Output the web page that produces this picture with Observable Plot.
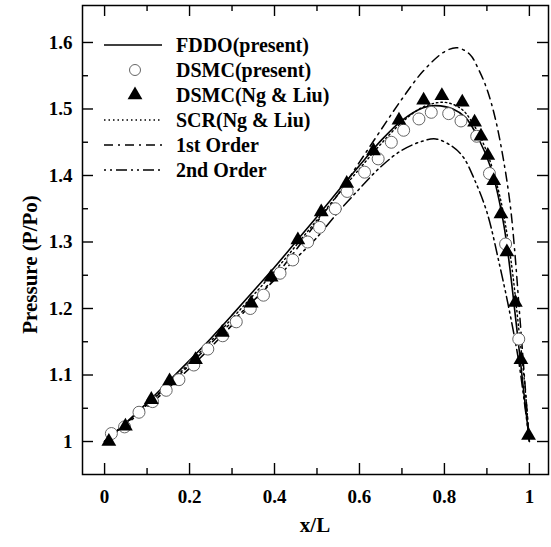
<!DOCTYPE html>
<html><head><meta charset="utf-8">
<script src="https://cdn.jsdelivr.net/npm/d3@7"></script>
<script src="https://cdn.jsdelivr.net/npm/@observablehq/plot@0.6"></script>
<style>body{margin:0;background:#fff}</style>
</head><body><div id="chart"></div>
<script>
// ---- tick values / labels ----
const xMajorTicks = [0, 0.2, 0.4, 0.6, 0.8, 1];
const xMajorLabels = ["0", "0.2", "0.4", "0.6", "0.8", "1"];
const xMinorTicks = [0.1, 0.3, 0.5, 0.7, 0.9];
const yMajorTicks = [1, 1.1, 1.2, 1.3, 1.4, 1.5, 1.6];
const yMajorLabels = ["1", "1.1", "1.2", "1.3", "1.4", "1.5", "1.6"];
const yMinorTicks = [1.05, 1.15, 1.25, 1.35, 1.45, 1.55];

// ---- series ----
const seriesNames = ["FDDO(present)", "DSMC(present)", "DSMC(Ng & Liu)", "SCR(Ng & Liu)", "1st Order", "2nd Order"];

const fddoX = [0, 0.05, 0.1, 0.15, 0.2, 0.25, 0.3, 0.35, 0.4, 0.45, 0.5, 0.55, 0.6, 0.65, 0.7, 0.75, 0.78, 0.82, 0.85, 0.88, 0.91, 0.94, 0.97, 0.985, 1.0];
const fddoP = [1.0, 1.028, 1.058, 1.09, 1.122, 1.155, 1.19, 1.226, 1.262, 1.3, 1.338, 1.377, 1.415, 1.452, 1.483, 1.502, 1.505, 1.5, 1.487, 1.456, 1.41, 1.325, 1.172, 1.085, 1.0];

const dsmcX = [0.016, 0.047, 0.081, 0.113, 0.145, 0.175, 0.21, 0.243, 0.278, 0.31, 0.343, 0.374, 0.413, 0.443, 0.478, 0.506, 0.543, 0.571, 0.612, 0.644, 0.675, 0.704, 0.74, 0.769, 0.81, 0.839, 0.876, 0.906, 0.944, 0.975];
const dsmcP = [1.012, 1.022, 1.044, 1.06, 1.077, 1.093, 1.115, 1.139, 1.159, 1.18, 1.2, 1.22, 1.253, 1.273, 1.3, 1.322, 1.35, 1.376, 1.405, 1.425, 1.45, 1.468, 1.485, 1.495, 1.493, 1.482, 1.459, 1.403, 1.297, 1.154];

const ngX = [0.01, 0.049, 0.11, 0.153, 0.214, 0.277, 0.345, 0.392, 0.455, 0.51, 0.57, 0.633, 0.693, 0.751, 0.794, 0.842, 0.871, 0.886, 0.902, 0.916, 0.933, 0.947, 0.967, 0.98, 0.998];
const ngP = [1.0, 1.023, 1.063, 1.091, 1.123, 1.164, 1.208, 1.247, 1.303, 1.345, 1.388, 1.437, 1.483, 1.513, 1.52, 1.51, 1.48, 1.459, 1.43, 1.392, 1.342, 1.285, 1.209, 1.123, 1.009];

const scrX = [0, 0.1, 0.2, 0.3, 0.4, 0.5, 0.6, 0.65, 0.7, 0.75, 0.8, 0.84, 0.87, 0.9, 0.93, 0.955, 0.975, 0.99, 1.0];
const scrP = [1.0, 1.056, 1.118, 1.185, 1.256, 1.333, 1.41, 1.447, 1.48, 1.503, 1.51, 1.5, 1.475, 1.435, 1.37, 1.28, 1.17, 1.08, 1.0];

const firstX = [0, 0.1, 0.2, 0.3, 0.4, 0.5, 0.55, 0.6, 0.65, 0.7, 0.75, 0.8, 0.83, 0.86, 0.88, 0.9, 0.92, 0.94, 0.955, 0.965, 0.976, 0.988, 1.0];
const firstP = [1.0, 1.052, 1.11, 1.175, 1.247, 1.33, 1.372, 1.42, 1.468, 1.515, 1.557, 1.586, 1.592, 1.582, 1.56, 1.53, 1.485, 1.42, 1.355, 1.29, 1.2, 1.1, 1.0];

const secondX = [0, 0.1, 0.2, 0.3, 0.4, 0.45, 0.5, 0.55, 0.6, 0.65, 0.7, 0.75, 0.78, 0.82, 0.845, 0.87, 0.9, 0.93, 0.955, 0.975, 0.988, 1.0];
const secondP = [1.0, 1.055, 1.115, 1.18, 1.243, 1.275, 1.307, 1.345, 1.38, 1.413, 1.438, 1.452, 1.455, 1.443, 1.427, 1.395, 1.345, 1.265, 1.19, 1.12, 1.06, 1.0];

// ---- build tables ----
const toRows = (xs, ps) => xs.map((x, i) => ({x, p: ps[i]}));
const fddo = toRows(fddoX, fddoP);
const dsmc = toRows(dsmcX, dsmcP);
const ng = toRows(ngX, ngP);
const scr = toRows(scrX, scrP);
const first = toRows(firstX, firstP);
const second = toRows(secondX, secondP);

// ---- styles ----
const W = 551, H = 547;
const mL = 82, mR = 3, mT = 5, mB = 73;
const innerW = W - mL - mR, innerH = H - mT - mB;
const FONT = "'Liberation Serif', 'Times New Roman', 'DejaVu Serif', serif";
const lineStyles = {
  fddo: {stroke: "#000", strokeWidth: 1.6},
  scr: {stroke: "#000", strokeWidth: 1.4, strokeDasharray: "1.5,3"},
  first: {stroke: "#000", strokeWidth: 1.5, strokeDasharray: "9,5,2,5"},
  second: {stroke: "#000", strokeWidth: 1.5, strokeDasharray: "2,4,2,4,11,4"}
};

const major = 11, minor = 6;
const plot = Plot.plot({
  width: W, height: H,
  marginLeft: mL, marginRight: mR, marginTop: mT, marginBottom: mB,
  style: {fontFamily: FONT, fontWeight: "bold", fontSize: "19px", color: "#000", background: "#fff"},
  x: {domain: [-0.052, 1.045]},
  y: {domain: [0.9504, 1.6556]},
  marks: [
    // axis labels only (ticks drawn inward below)
    Plot.axisX(xMajorTicks, {tickSize: 0, tickPadding: 15, tickFormat: (d, i) => xMajorLabels[i], label: null, fontFamily: FONT}),
    Plot.axisY(yMajorTicks, {tickSize: 0, tickPadding: 10, tickFormat: (d, i) => yMajorLabels[i], label: null, fontFamily: FONT}),
    // inward ticks on all four sides
    Plot.tickX(xMajorTicks, {x: d => d, insetTop: innerH - major, stroke: "#000", strokeWidth: 1.4}),
    Plot.tickX(xMajorTicks, {x: d => d, insetBottom: innerH - major, stroke: "#000", strokeWidth: 1.4}),
    Plot.tickX(xMinorTicks, {x: d => d, insetTop: innerH - minor, stroke: "#000", strokeWidth: 1.4}),
    Plot.tickX(xMinorTicks, {x: d => d, insetBottom: innerH - minor, stroke: "#000", strokeWidth: 1.4}),
    Plot.tickY(yMajorTicks, {y: d => d, insetRight: innerW - major, stroke: "#000", strokeWidth: 1.4}),
    Plot.tickY(yMajorTicks, {y: d => d, insetLeft: innerW - major, stroke: "#000", strokeWidth: 1.4}),
    Plot.tickY(yMinorTicks, {y: d => d, insetRight: innerW - minor, stroke: "#000", strokeWidth: 1.4}),
    Plot.tickY(yMinorTicks, {y: d => d, insetLeft: innerW - minor, stroke: "#000", strokeWidth: 1.4}),
    // curves
    Plot.line(first, {x: "x", y: "p", curve: "catmull-rom", ...lineStyles.first}),
    Plot.line(second, {x: "x", y: "p", curve: "catmull-rom", ...lineStyles.second}),
    Plot.line(scr, {x: "x", y: "p", curve: "catmull-rom", ...lineStyles.scr}),
    Plot.line(fddo, {x: "x", y: "p", curve: "catmull-rom", ...lineStyles.fddo}),
    // symbols
    Plot.dot(dsmc, {x: "x", y: "p", r: 6, symbol: "circle", fill: "#fff", stroke: "#666", strokeWidth: 1}),
    Plot.dot(ng, {x: "x", y: "p", r: 5.5, symbol: "triangle", fill: "#000", stroke: "none"}),
    Plot.frame({stroke: "#000", strokeWidth: 1.5})
  ]
});
document.getElementById("chart").appendChild(plot);

// ---- axis titles and legend ----
const svg = d3.select(plot);
svg.append("text")
  .attr("transform", `translate(30, ${(mT + H - mB) / 2 + 25}) rotate(-90)`)
  .attr("text-anchor", "middle").attr("dominant-baseline", "central")
  .style("font-family", FONT).style("font-weight", "bold").style("font-size", "21px")
  .text("Pressure (P/Po)");
svg.append("text")
  .attr("x", mL + innerW / 2).attr("y", 525)
  .attr("text-anchor", "middle").attr("dominant-baseline", "central")
  .style("font-family", FONT).style("font-weight", "bold").style("font-size", "21px")
  .text("x/L");

const lg = svg.append("g").attr("text-anchor", "start")
  .style("font-family", FONT).style("font-weight", "bold").style("font-size", "20px");
const legendKinds = ["fddo", "circle", "triangle", "scr", "first", "second"];
seriesNames.forEach((name, i) => {
  const y = 45 + i * 25;
  const kind = legendKinds[i];
  if (lineStyles[kind]) {
    const s = lineStyles[kind];
    lg.append("line").attr("x1", 104).attr("x2", 162).attr("y1", y).attr("y2", y)
      .attr("stroke", s.stroke).attr("stroke-width", s.strokeWidth)
      .attr("stroke-dasharray", s.strokeDasharray || null);
  } else if (kind === "circle") {
    lg.append("circle").attr("cx", 135).attr("cy", y).attr("r", 5.5)
      .attr("fill", "#fff").attr("stroke", "#666");
  } else {
    lg.append("path").attr("transform", `translate(135,${y})`)
      .attr("d", d3.symbol(d3.symbolTriangle, Math.PI * 5.5 * 5.5)()).attr("fill", "#000");
  }
  lg.append("text").attr("x", 176).attr("y", y).attr("text-anchor", "start")
    .attr("dominant-baseline", "central").text(name);
});
</script>
</body></html>
